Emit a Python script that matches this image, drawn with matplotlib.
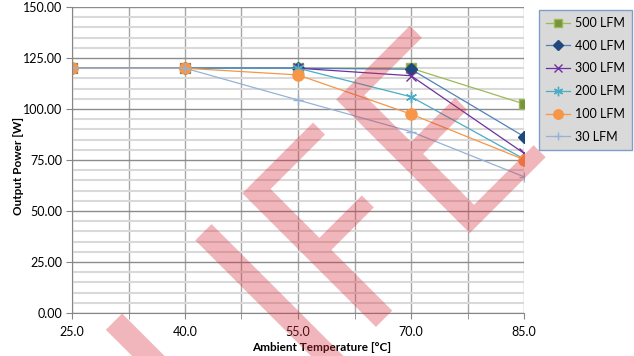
import matplotlib
matplotlib.use("Agg")
import numpy as np
import matplotlib.pyplot as plt
from matplotlib.ticker import MultipleLocator, FormatStrFormatter
from matplotlib.patches import PathPatch
from matplotlib.path import Path
from matplotlib.transforms import Affine2D

plt.rcParams['font.family'] = ['Lato', 'DejaVu Sans']

temps = [25, 40, 55, 70, 85]
lfm500 = [120, 120, 120, 120, 102.5]
lfm400 = [120, 120, 120, 119.5, 86.5]
lfm300 = [120, 120, 120, 116.3, 78.3]
lfm200 = [120, 120, 120, 106, 75.5]
lfm100 = [120, 120, 116.7, 97.5, 75.2]
lfm30 = [120, 120, 104.4, 88.9, 66.8]
labels = ['500 LFM', '400 LFM', '300 LFM', '200 LFM', '100 LFM', '30 LFM']

fig = plt.figure(figsize=(6.34, 3.56), dpi=100)
ax = fig.add_axes([72/634, 1-313/356, (524-72)/634, (313-7)/356])

ax.plot(temps, lfm500, '-', color='#9bbb59', lw=0.9, marker='s', ms=7.5,
        mfc='#77933c', mec='#9bbb59', label=labels[0])
ax.plot(temps, lfm400, '-', color='#4f81bd', lw=0.9, marker='D', ms=6.5,
        mfc='#1f497d', mec='#1f497d', label=labels[1])
ax.plot(temps, lfm300, '-', color='#7030a0', lw=0.9, marker='x', ms=7,
        mew=1, label=labels[2])
ax.plot(temps, lfm200, '-', color='#4bacc6', lw=0.9, marker=(6, 2, 0), ms=8,
        mew=1, label=labels[3])
ax.plot(temps, lfm100, '-', color='#f79646', lw=0.9, marker='o', ms=8,
        mfc='#f79646', mec='#f79646', label=labels[4])
ax.plot(temps, lfm30, '-', color='#95b3d7', lw=0.9, marker='+', ms=7,
        mew=1, label=labels[5])

ax.set_xlim(25, 85)
ax.set_ylim(0, 150)
ax.xaxis.set_major_locator(MultipleLocator(15, offset=10))
ax.xaxis.set_minor_locator(MultipleLocator(7.5, offset=2.5))
ax.yaxis.set_major_locator(MultipleLocator(25))
ax.yaxis.set_minor_locator(MultipleLocator(5))
ax.xaxis.set_major_formatter(FormatStrFormatter('%.1f'))
ax.yaxis.set_major_formatter(FormatStrFormatter('%.2f'))

ax.set_axisbelow(True)
ax.grid(True, which='minor', axis='y', color='#d9d9d9', lw=1.5)
ax.grid(True, which='major', axis='y', color='#8c8c8c', lw=1)
ax.grid(True, which='both', axis='x', color='#a6a6a6', lw=1)

for s in ['top', 'right']:
    ax.spines[s].set_visible(False)
for s in ['left', 'bottom']:
    ax.spines[s].set_color('#868686')
ax.tick_params(axis='both', which='major', length=4, color='#868686',
               labelsize=9, labelcolor='#000000')
ax.tick_params(axis='x', which='minor', length=4, color='#868686')
ax.tick_params(axis='y', which='minor', length=0)
ax.tick_params(axis='x', which='major', pad=5)
ax.tick_params(axis='y', which='major', pad=3)

ax.set_xlabel('Ambient Temperature [°C]', fontsize=8.5, fontweight='bold')
ax.xaxis.set_label_coords(0.553, -0.095)
ax.set_ylabel('Output Power [W]', fontsize=8.5, fontweight='bold')
ax.yaxis.set_label_coords(-0.107, 0.48)

leg = fig.legend(loc='upper left', bbox_to_anchor=(539/634, 1-10/356),
                 fontsize=9, frameon=True, fancybox=False, handlelength=1.9,
                 labelspacing=0.86, handletextpad=0.4, borderpad=0.55,
                 borderaxespad=0, markerscale=0.85)
leg.get_frame().set_facecolor('#d9d9d9')
leg.get_frame().set_edgecolor('#7f9fc8')
leg.get_frame().set_linewidth(1)
leg.get_frame().set_alpha(1)

# pink "LIFE" watermark: letters built from bars, rotated 45 degrees
cap, stem, bar = 189, 23, 17
rects = [
    (-193, -170, -cap, 0), (-170, -93, -cap, -cap + bar),           # L
    (-66.5, -43.5, -cap, 0),                                        # I
    (0, stem, -cap, 0), (stem, 100, -bar, 0), (stem, 83, -103, -86),  # F
    (132.7, 132.7 + stem, -cap, 0), (132.7 + stem, 237, -bar, 0),
    (132.7 + stem, 218, -100, -83), (132.7 + stem, 240, -cap, -cap + bar),  # E
]
verts, codes = [], []
for x0, x1, y0, y1 in rects:
    verts += [(x0, y0), (x1, y0), (x1, y1), (x0, y1), (x0, y0)]
    codes += [Path.MOVETO, Path.LINETO, Path.LINETO, Path.LINETO, Path.CLOSEPOLY]
wm_path = Path(np.array(verts, float), codes)
wm = PathPatch(wm_path, transform=Affine2D().rotate_deg(45).translate(242.3, 356 - 193.3),
               facecolor='#d9303c', edgecolor='none', alpha=0.35, zorder=10)
fig.add_artist(wm)

fig.savefig('out.png', dpi=100)
